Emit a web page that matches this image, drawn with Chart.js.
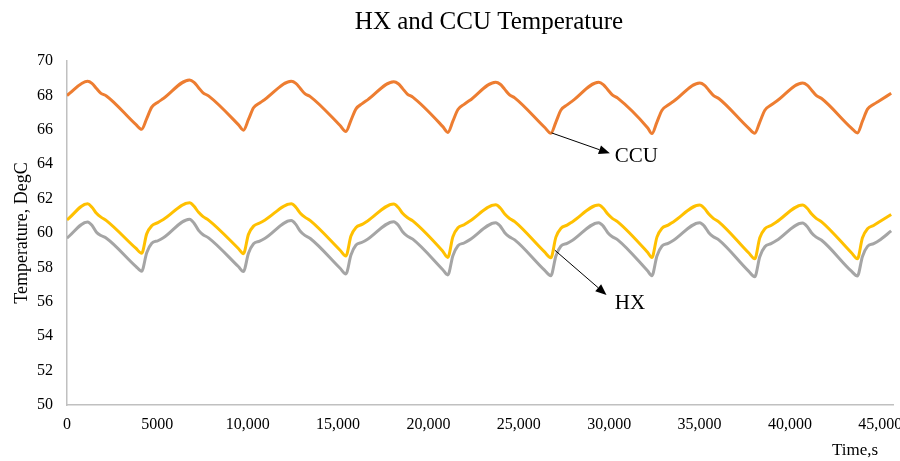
<!DOCTYPE html>
<html>
<head>
<meta charset="utf-8">
<script src="https://cdn.jsdelivr.net/npm/chart.js@4/dist/chart.umd.min.js"></script>
<style>
  html, body { margin: 0; padding: 0; background: #fff; }
  canvas { display: block; }
</style>
</head>
<body>
<canvas id="tempChart" width="900" height="461"></canvas>
<script>
// time stamps, s
const times = [
  0, 1140, 1380, 1630, 1880, 2180, 3820,
  4130, 4410, 4690, 5030, 5330, 6780, 7030, 7280, 7530, 7830, 9480,
  9760, 10040, 10320, 10660, 10960, 12410, 12660, 12910, 13160, 13460, 15110,
  15430, 15710, 15990, 16330, 16630, 18080, 18330, 18580, 18830, 19130, 20780,
  21070, 21350, 21630, 21970, 22270, 23720, 23970, 24220, 24470, 24770, 26420,
  26770, 27050, 27330, 27670, 27970, 29420, 29670, 29920, 30170, 30470, 32120,
  32360, 32640, 32920, 33260, 33560, 35010, 35260, 35510, 35760, 36060, 37710,
  38050, 38330, 38610, 38950, 39250, 40700, 40950, 41200, 41450, 41750, 43400,
  43730, 44010, 44290, 44630, 44930, 45600
];

// CCU temperature, DegC
const ccuTemp = [
  68.0, 68.82, 68.7, 68.4, 68.12, 67.97, 66.3,
  66.03, 66.65, 67.32, 67.6, 67.82, 68.9, 68.76, 68.45, 68.15, 67.97, 66.3,
  65.98, 66.6, 67.28, 67.56, 67.78, 68.82, 68.7, 68.4, 68.1, 67.93, 66.25,
  65.9, 66.55, 67.22, 67.52, 67.74, 68.8, 68.68, 68.38, 68.08, 67.9, 66.2,
  65.85, 66.5, 67.18, 67.48, 67.7, 68.77, 68.65, 68.35, 68.05, 67.86, 66.15,
  65.8, 66.45, 67.15, 67.45, 67.68, 68.76, 68.63, 68.33, 68.03, 67.84, 66.12,
  65.78, 66.45, 67.14, 67.44, 67.66, 68.72, 68.6, 68.3, 68.0, 67.82, 66.1,
  65.8, 66.45, 67.14, 67.44, 67.66, 68.72, 68.6, 68.3, 68.0, 67.82, 66.1,
  65.82, 66.5, 67.2, 67.48, 67.68, 68.12
];

// HX temperature, upper trace
const hxUpper = [
  60.76, 61.7, 61.5, 61.15, 60.92, 60.72, 59.1,
  58.82, 59.95, 60.42, 60.6, 60.78, 61.76, 61.55, 61.2, 60.95, 60.75, 59.1,
  58.8, 59.92, 60.4, 60.58, 60.76, 61.7, 61.5, 61.15, 60.92, 60.72, 59.0,
  58.66, 59.82, 60.32, 60.5, 60.7, 61.69, 61.48, 61.13, 60.9, 60.7, 58.95,
  58.58, 59.78, 60.3, 60.48, 60.68, 61.64, 61.45, 61.1, 60.86, 60.66, 58.9,
  58.56, 59.76, 60.28, 60.46, 60.66, 61.63, 61.44, 61.1, 60.85, 60.65, 58.88,
  58.58, 59.76, 60.28, 60.46, 60.66, 61.63, 61.44, 61.1, 60.85, 60.65, 58.85,
  58.5, 59.72, 60.25, 60.44, 60.64, 61.63, 61.44, 61.1, 60.85, 60.65, 58.85,
  58.5, 59.72, 60.25, 60.44, 60.64, 61.08
];

// HX temperature, lower trace
const hxLower = [
  59.7, 60.64, 60.45, 60.05, 59.85, 59.7, 58.05,
  57.78, 58.85, 59.4, 59.55, 59.72, 60.8, 60.57, 60.15, 59.9, 59.72, 58.05,
  57.76, 58.82, 59.38, 59.53, 59.7, 60.72, 60.5, 60.1, 59.86, 59.68, 57.95,
  57.62, 58.72, 59.3, 59.46, 59.64, 60.66, 60.45, 60.06, 59.82, 59.64, 57.88,
  57.56, 58.68, 59.26, 59.42, 59.6, 60.6, 60.4, 60.02, 59.78, 59.6, 57.84,
  57.52, 58.66, 59.24, 59.4, 59.58, 60.6, 60.4, 60.02, 59.78, 59.6, 57.8,
  57.52, 58.66, 59.24, 59.4, 59.58, 60.6, 60.4, 60.02, 59.78, 59.6, 57.78,
  57.46, 58.62, 59.2, 59.38, 59.56, 60.58, 60.38, 60.0, 59.76, 59.58, 57.78,
  57.5, 58.64, 59.22, 59.38, 59.56, 60.12
];

// x axis tick positions, s
const xTicks = [0, 5000, 10000, 15000, 20000, 25000, 30000, 35000, 40000, 45000];

const chartTitle = 'HX and CCU Temperature';
const xTitle = 'Time,s';
const yTitle = 'Temperature, DegC';

// callouts: arrow from a point on the curve to the label (data units)
const callouts = [
  { text: 'CCU', from: [26810, 65.82], to: [30035, 64.63], at: [30310, 64.42] },
  { text: 'HX', from: [26990, 59.0], to: [29850, 56.4], at: [30310, 55.93] }
];

const serif = '"Liberation Serif", "Times New Roman", serif';

function toPoints(values) {
  return times.map((t, i) => ({ x: t, y: values[i] }));
}

// title, axis titles and arrow callouts
const textPlugin = {
  id: 'textPlugin',
  afterDraw(chart) {
    const { ctx, chartArea, scales: { x, y } } = chart;
    ctx.save();
    ctx.fillStyle = '#000';

    ctx.font = '25px ' + serif;
    ctx.textAlign = 'center';
    ctx.textBaseline = 'middle';
    ctx.fillText(chartTitle, (chartArea.left + chartArea.right) / 2 + 9, 22);

    ctx.font = '17px ' + serif;
    ctx.fillText(xTitle, chartArea.right - 38, 451);

    ctx.save();
    ctx.font = '18px ' + serif;
    ctx.translate(22, (chartArea.top + chartArea.bottom) / 2);
    ctx.rotate(-Math.PI / 2);
    ctx.fillText(yTitle, 0, 0);
    ctx.restore();

    callouts.forEach(c => {
      const x0 = x.getPixelForValue(c.from[0]), y0 = y.getPixelForValue(c.from[1]);
      const x1 = x.getPixelForValue(c.to[0]), y1 = y.getPixelForValue(c.to[1]);
      const ang = Math.atan2(y1 - y0, x1 - x0);
      const head = 11, half = 4.5;
      const bx = x1 - head * Math.cos(ang), by = y1 - head * Math.sin(ang);

      ctx.strokeStyle = '#000';
      ctx.lineWidth = 1;
      ctx.beginPath();
      ctx.moveTo(x0, y0);
      ctx.lineTo(bx, by);
      ctx.stroke();

      ctx.beginPath();
      ctx.moveTo(x1, y1);
      ctx.lineTo(bx + half * Math.sin(ang), by - half * Math.cos(ang));
      ctx.lineTo(bx - half * Math.sin(ang), by + half * Math.cos(ang));
      ctx.closePath();
      ctx.fill();

      ctx.font = '21px ' + serif;
      ctx.textAlign = 'left';
      ctx.textBaseline = 'middle';
      ctx.fillText(c.text, x.getPixelForValue(c.at[0]), y.getPixelForValue(c.at[1]));
    });

    ctx.restore();
  }
};

const ctx = document.getElementById('tempChart').getContext('2d');

new Chart(ctx, {
  type: 'line',
  data: {
    datasets: [
      { label: 'CCU', data: toPoints(ccuTemp), borderColor: '#ED7D31' },
      { label: 'HX', data: toPoints(hxUpper), borderColor: '#FFC000' },
      { label: 'HX', data: toPoints(hxLower), borderColor: '#A5A5A5' }
    ]
  },
  options: {
    responsive: false,
    animation: false,
    layout: { padding: { top: 61, right: 7, left: 0, bottom: 0 } },
    elements: {
      point: { radius: 0 },
      line: { borderWidth: 3, cubicInterpolationMode: 'monotone', fill: false }
    },
    plugins: {
      legend: { display: false },
      tooltip: { enabled: false }
    },
    scales: {
      x: {
        type: 'linear',
        min: 0,
        max: 45700,
        grid: { display: false },
        border: { color: '#c0c0c0', width: 1.5 },
        ticks: {
          maxRotation: 0,
          autoSkip: false,
          padding: 2,
          color: '#000',
          font: { family: serif, size: 16 },
          callback: v => v < 10000 ? String(v) : v.toLocaleString('en-US')
        },
        afterBuildTicks: s => { s.ticks = xTicks.map(v => ({ value: v })); },
        afterFit: s => { s.height = 56; s.paddingLeft = 0; s.paddingRight = 0; }
      },
      y: {
        min: 50,
        max: 70,
        grid: { display: false },
        border: { color: '#c0c0c0', width: 1.5 },
        ticks: {
          stepSize: 2,
          padding: 6,
          color: '#000',
          font: { family: serif, size: 16 }
        },
        afterFit: s => { s.width = 67; s.paddingTop = 0; s.paddingBottom = 0; }
      }
    }
  },
  plugins: [textPlugin]
});
</script>
</body>
</html>
